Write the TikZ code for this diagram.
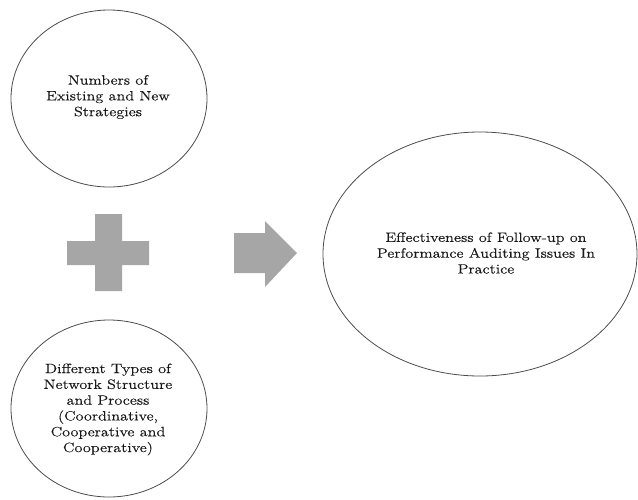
\documentclass[tikz,border=0pt]{standalone}
\usepackage{fontspec}
\setmainfont{Latin Modern Roman}
\newfontfamily\widefont[FakeStretch=1.2,FakeBold=0.2]{Latin Modern Roman}
\usetikzlibrary{shapes.geometric}
\tikzset{
  bubble/.style={ellipse, draw=black!70, line width=0.8pt, inner sep=0pt},
  label text/.style={align=center, inner sep=0pt, font=\widefont\fontsize{13.5}{15.8}\selectfont, text=black!90},
  shapefill/.style={fill=black!35, draw=none}
}
\begin{document}
\begin{tikzpicture}[x=1pt, y=-1pt]
\useasboundingbox (0,0) rectangle (638,499);
\node[bubble, minimum width=196pt, minimum height=177pt] (top) at (109,98.5) {};
\node[label text] (toptext) at (108,97)
  {Numbers of\\Existing and New\\Strategies};
\node[bubble, minimum width=196pt, minimum height=177pt] (bot) at (109,408.5) {};
\node[label text] (bottext) at (108,409.5)
  {Different Types of\\Network Structure\\and Process\\(Coordinative,\\Cooperative and\\Cooperative)};
\node[bubble, minimum width=314pt, minimum height=244pt] (eff) at (480,254) {};
\node[label text] (efftext) at (486,253)
  {Effectiveness of Follow-up on\\Performance Auditing Issues In\\Practice};
% plus sign
\fill[shapefill] (95,214) -- (122,214) -- (122,241) -- (149,241) -- (149,265) -- (122,265)
  -- (122,291) -- (95,291) -- (95,265) -- (67,265) -- (67,241) -- (95,241) -- cycle;
% arrow
\fill[shapefill] (234,233) -- (265,233) -- (265,221) -- (297,253) -- (265,287) -- (265,273)
  -- (234,273) -- cycle;
\end{tikzpicture}
\end{document}
